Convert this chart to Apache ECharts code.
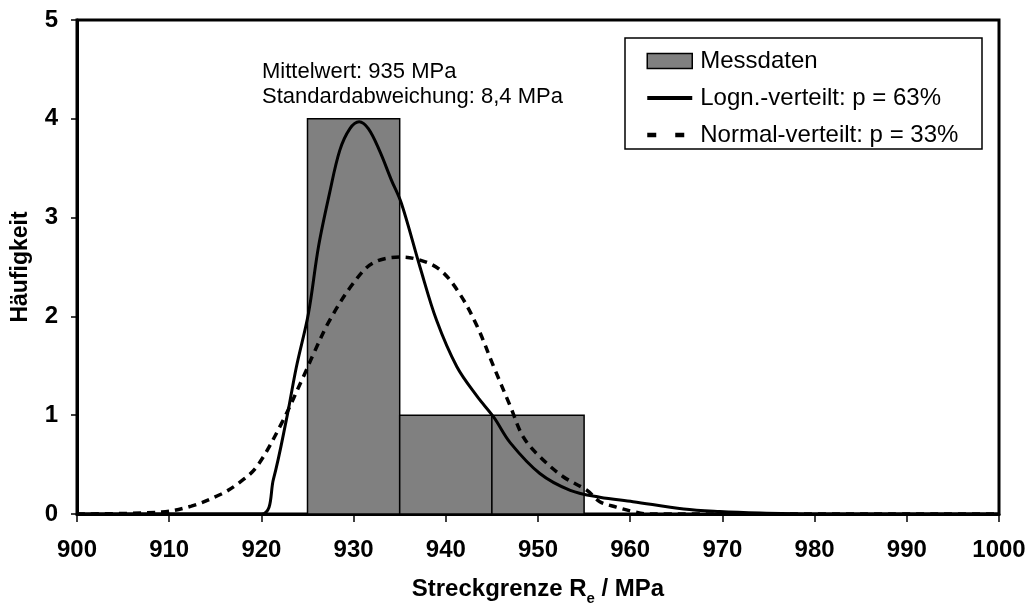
<!DOCTYPE html>
<html>
<head>
<meta charset="utf-8">
<script src="https://cdn.jsdelivr.net/npm/echarts@6/dist/echarts.min.js"></script>
<style>
  html, body { margin: 0; padding: 0; background: #fff; }
  #chart { width: 1030px; height: 607px; }
</style>
</head>
<body>
<div id="chart"></div>
<script>
// Histogram of measured yield strengths: bin start, bin end, count
const binStart = [925, 935, 945];
const binEnd = [935, 945, 955];
const binCount = [4, 1, 1];

// Fitted log-normal density (scaled to counts)
const lognX = [900, 920, 921.3, 922.7, 923.8, 925.1, 926.2, 927.4, 928.5, 929.6, 930.6, 931.6, 932.8, 934.1, 935.2, 937.2, 939.0, 941.2, 943.4, 945.2, 947.0, 950.2, 953.5, 956.7, 960.3, 965.8, 969.7, 974.1, 980, 1000];
const lognY = [0, 0, 0.35, 0.95, 1.49, 2.03, 2.71, 3.25, 3.68, 3.90, 3.97, 3.90, 3.68, 3.38, 3.14, 2.50, 1.96, 1.49, 1.19, 0.98, 0.72, 0.41, 0.24, 0.17, 0.125, 0.05, 0.025, 0.01, 0, 0];

// Fitted normal density (scaled to counts)
const normX = [900, 909.2, 912.4, 915.6, 917.5, 919.5, 922.2, 924.7, 925.6, 927.4, 930.0, 932.1, 935.0, 937.2, 939.4, 941.5, 943.4, 945.2, 947.0, 948.4, 950.2, 952.7, 955.3, 956.7, 958.5, 960.3, 962, 1000];
const normY = [0, 0.02, 0.08, 0.2, 0.31, 0.48, 0.92, 1.42, 1.61, 1.96, 2.34, 2.54, 2.60, 2.57, 2.47, 2.23, 1.90, 1.49, 1.09, 0.78, 0.58, 0.38, 0.24, 0.125, 0.07, 0.025, 0, 0];

const seriesNames = ['Messdaten', 'Logn.-verteilt: p = 63%', 'Normal-verteilt: p = 33%'];
const statsText = ['Mittelwert: 935 MPa', 'Standardabweichung: 8,4 MPa'];

const FONT = '"Liberation Sans", Arial, sans-serif';

const binData = binStart.map((s, i) => [s, binEnd[i], binCount[i]]);
const lognData = lognX.map((x, i) => [x, lognY[i]]);
const normData = normX.map((x, i) => [x, normY[i]]);

const chart = echarts.init(document.getElementById('chart'), null, { renderer: 'canvas' });

chart.setOption({
  animation: false,
  backgroundColor: '#fff',
  textStyle: { fontFamily: FONT },
  title: {
    text: statsText.join('\n'),
    left: 262,
    top: 59,
    padding: 0,
    textStyle: { fontFamily: FONT, fontSize: 22, fontWeight: 'normal', color: '#000', lineHeight: 25 }
  },
  grid: {
    left: 77, right: 31, top: 20, bottom: 93,
    outerBoundsMode: 'none',
    containLabel: false,
    show: true, borderColor: '#000', borderWidth: 3, backgroundColor: 'transparent'
  },
  graphic: [{
    type: 'rect',
    shape: { x: 625, y: 38, width: 357, height: 111 },
    style: { fill: '#fff', stroke: '#000', lineWidth: 1.5 },
    z: 5
  }],
  legend: {
    orient: 'vertical',
    left: 645, top: 49,
    padding: 0,
    itemWidth: 45, itemHeight: 15,
    itemGap: 13,
    z: 10,
    textStyle: { fontFamily: FONT, fontSize: 24, color: '#000', lineHeight: 24, padding: [0, 0, 0, 3] },
    data: [
      { name: seriesNames[0], icon: 'rect', itemStyle: { color: '#808080', borderColor: '#000', borderWidth: 1.5 } },
      { name: seriesNames[1], itemStyle: { opacity: 0 }, lineStyle: { width: 4 } },
      { name: seriesNames[2], itemStyle: { opacity: 0 }, lineStyle: { type: [9, 19], width: 4.5 } }
    ]
  },
  xAxis: {
    type: 'value',
    min: 900, max: 1000, interval: 10,
    name: 'Streckgrenze R{sub|e} / MPa',
    nameLocation: 'middle',
    nameGap: 63,
    nameTextStyle: {
      fontFamily: FONT, fontSize: 24, fontWeight: 'bold', color: '#000',
      rich: {
        sub: { fontFamily: FONT, fontSize: 15, fontWeight: 'bold', color: '#000', lineHeight: 15, padding: [14, 0, 0, 0], verticalAlign: 'top' }
      }
    },
    axisLine: { show: true, onZero: false, lineStyle: { color: '#000', width: 3 } },
    axisTick: { show: true, inside: false, length: 8, lineStyle: { color: '#000', width: 1.5 } },
    axisLabel: {
      fontFamily: FONT, fontSize: 24, fontWeight: 'bold', color: '#000', margin: 24,
      formatter: function (v) { return String(v); }
    },
    splitLine: { show: false }
  },
  yAxis: {
    type: 'value',
    min: 0, max: 5, interval: 1,
    name: 'Häufigkeit',
    nameLocation: 'middle',
    nameGap: 45,
    nameTextStyle: { fontFamily: FONT, fontSize: 23, fontWeight: 'bold', color: '#000' },
    axisLine: { show: true, onZero: false, lineStyle: { color: '#000', width: 3 } },
    axisTick: { show: true, inside: false, length: 6, lineStyle: { color: '#000', width: 1.5 } },
    axisLabel: { fontFamily: FONT, fontSize: 24, fontWeight: 'bold', color: '#000', margin: 19 },
    splitLine: { show: false }
  },
  series: [
    {
      name: seriesNames[0],
      type: 'custom',
      z: 1,
      itemStyle: { color: '#808080', borderColor: '#000', borderWidth: 1.5 },
      data: binData,
      encode: { x: [0, 1], y: 2 },
      renderItem: function (params, api) {
        const p0 = api.coord([api.value(0), api.value(2)]);
        const p1 = api.coord([api.value(1), 0]);
        return {
          type: 'rect',
          shape: { x: p0[0], y: p0[1], width: p1[0] - p0[0], height: p1[1] - p0[1] },
          style: { fill: '#808080', stroke: '#000', lineWidth: 1.5 }
        };
      }
    },
    {
      name: seriesNames[1],
      type: 'line',
      z: 3,
      data: lognData,
      showSymbol: false,
      symbol: 'none',
      smooth: 0.35,
      itemStyle: { color: '#000' },
      lineStyle: { color: '#000', width: 3 }
    },
    {
      name: seriesNames[2],
      type: 'line',
      z: 2,
      data: normData,
      showSymbol: false,
      symbol: 'none',
      smooth: 0.35,
      itemStyle: { color: '#000' },
      lineStyle: { color: '#000', width: 3.5, type: [8, 6] }
    }
  ]
});
</script>
</body>
</html>
